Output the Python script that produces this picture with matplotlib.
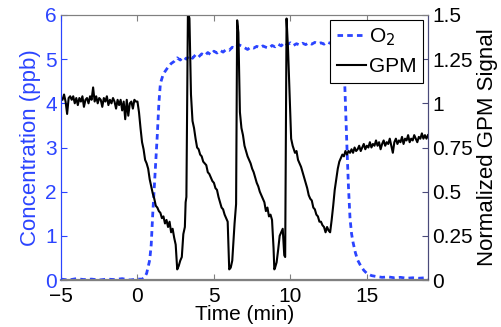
import matplotlib
matplotlib.use("Agg")
import matplotlib.pyplot as plt

plt.rcParams['font.family'] = ['Liberation Sans', 'DejaVu Sans']

# O2 concentration (ppb), left axis
o2_time = [-5.0, -4.5, -4.0, -3.5, -3.0, -2.5, -2.0, -1.5, -1.0, -0.5, 0.0, 0.3, 0.45,
           0.6, 0.8, 0.9, 1.0, 1.1, 1.2, 1.3, 1.4, 1.5, 1.65, 1.8, 2.0, 2.2, 2.4, 2.6, 2.8,
           3.0, 3.2, 3.4, 3.6, 3.8, 4.0, 4.2, 4.4, 4.6, 4.8, 5.0, 5.2, 5.4, 5.6, 5.8, 6.0,
           6.2, 6.4, 6.6, 6.8, 7.0, 7.2, 7.4, 7.6, 7.8, 8.0, 8.2, 8.4, 8.6, 8.8, 9.0, 9.2,
           9.4, 9.6, 9.8, 10.0, 10.2, 10.4, 10.6, 10.8, 11.0, 11.2, 11.4, 11.6, 11.8, 12.0,
           12.2, 12.4, 12.6, 12.8, 13.0, 13.2, 13.4, 13.5, 13.6, 13.7, 13.8, 13.9, 14.0,
           14.1, 14.25, 14.4, 14.6, 14.8, 15.0, 15.3, 15.6, 16.0, 16.4, 16.8, 17.2, 17.6,
           18.0, 18.4, 18.8, 19.0]
o2_conc = [0.02, 0.00, 0.03, 0.01, 0.02, 0.00, 0.02, 0.01, 0.03, 0.00, 0.02, 0.02, 0.05,
           0.15, 0.45, 0.80, 1.50, 2.10, 2.70, 3.30, 4.00, 4.45, 4.62, 4.72, 4.82, 4.90, 4.95,
           5.03, 4.98, 5.05, 5.00, 5.08, 5.02, 5.10, 5.05, 5.12, 5.08, 5.15, 5.10, 5.18, 5.14,
           5.20, 5.16, 5.22, 5.20, 5.27, 5.25, 5.33, 5.30, 5.26, 5.22, 5.27, 5.25, 5.29, 5.26,
           5.30, 5.27, 5.25, 5.31, 5.28, 5.34, 5.30, 5.38, 5.33, 5.37, 5.31, 5.35, 5.32, 5.36,
           5.33, 5.37, 5.34, 5.38, 5.35, 5.37, 5.34, 5.39, 5.36, 5.41, 5.35, 5.38, 5.30, 5.00,
           4.00, 3.00, 2.10, 1.40, 1.05, 0.85, 0.62, 0.45, 0.32, 0.22, 0.15, 0.10, 0.08, 0.06,
           0.07, 0.05, 0.06, 0.04, 0.05, 0.04, 0.05, 0.03]

# Normalized GPM signal, right axis
gpm_time = [-5.0, -4.9, -4.8, -4.7, -4.6, -4.5, -4.4, -4.3, -4.2, -4.1, -4.0, -3.9, -3.8,
            -3.7, -3.6, -3.5, -3.4, -3.3, -3.2, -3.1, -3.0, -2.9, -2.8, -2.7, -2.6, -2.5,
            -2.4, -2.3, -2.2, -2.1, -2.0, -1.9, -1.8, -1.7, -1.6, -1.5, -1.4, -1.3, -1.2,
            -1.1, -1.0, -0.9, -0.8, -0.7, -0.6, -0.5, -0.4, -0.3, -0.2, -0.1, 0.0, 0.1, 0.2,
            0.3, 0.4, 0.5, 0.6, 0.7, 0.8, 0.9, 1.0, 1.1, 1.2, 1.3, 1.4, 1.5, 1.6, 1.7, 1.8,
            1.9, 2.0, 2.1, 2.2, 2.3, 2.4, 2.5, 2.6, 2.7, 2.8, 2.9, 3.0, 3.1, 3.15, 3.2, 3.3,
            3.4, 3.5, 3.6, 3.7, 3.8, 3.9, 4.0, 4.1, 4.2, 4.3, 4.4, 4.5, 4.6, 4.7, 4.8, 4.9,
            5.0, 5.1, 5.2, 5.3, 5.4, 5.5, 5.6, 5.7, 5.8, 5.9, 6.0, 6.1, 6.2, 6.3, 6.35, 6.45,
            6.52, 6.6, 6.7, 6.8, 6.9, 7.0, 7.1, 7.2, 7.3, 7.4, 7.5, 7.6, 7.7, 7.8, 7.9, 8.0,
            8.1, 8.2, 8.3, 8.4, 8.5, 8.6, 8.7, 8.8, 8.9, 8.95, 9.0, 9.1, 9.2, 9.3, 9.4, 9.5,
            9.6, 9.66, 9.75, 9.85, 9.95, 10.05, 10.15, 10.3, 10.4, 10.5, 10.6, 10.7, 10.8,
            10.9, 11.0, 11.1, 11.2, 11.3, 11.4, 11.5, 11.6, 11.7, 11.8, 11.9, 12.0, 12.1,
            12.2, 12.3, 12.4, 12.5, 12.6, 12.7, 12.8, 12.9, 13.0, 13.1, 13.2, 13.3, 13.4,
            13.5, 13.6, 13.7, 13.8, 13.9, 14.0, 14.1, 14.2, 14.3, 14.4, 14.5, 14.6, 14.7,
            14.8, 14.9, 15.0, 15.1, 15.2, 15.3, 15.4, 15.5, 15.6, 15.7, 15.8, 15.9, 16.0,
            16.1, 16.2, 16.3, 16.4, 16.5, 16.6, 16.7, 16.8, 16.9, 17.0, 17.1, 17.2, 17.3,
            17.4, 17.5, 17.6, 17.7, 17.8, 17.9, 18.0, 18.1, 18.2, 18.3, 18.4, 18.5, 18.6,
            18.7, 18.8, 18.9, 19.0]
gpm_signal = [1.03, 1.02, 1.05, 1.01, 0.94, 1.03, 1.04, 1.02, 1.04, 1.00, 1.03, 0.99, 1.03,
              1.01, 1.04, 0.98, 1.02, 1.03, 1.00, 1.04, 1.02, 1.09, 1.01, 1.04, 1.00, 1.03,
              1.02, 0.98, 1.03, 1.01, 1.04, 0.99, 1.02, 1.00, 1.03, 1.01, 0.97, 1.02, 0.99,
              1.02, 0.96, 1.01, 0.91, 1.02, 0.93, 1.00, 1.01, 0.97, 1.02, 1.01, 1.01, 0.95, 0.86,
              0.78, 0.74, 0.68, 0.66, 0.63, 0.57, 0.53, 0.49, 0.46, 0.42, 0.41, 0.39, 0.38, 0.35,
              0.36, 0.32, 0.34, 0.30, 0.33, 0.27, 0.29, 0.24, 0.20, 0.06, 0.08, 0.11, 0.13,
              0.26, 0.30, 0.44, 0.47, 1.52, 1.48, 1.05, 0.90, 0.86, 0.80, 0.75, 0.74, 0.71,
              0.70, 0.67, 0.66, 0.65, 0.61, 0.60, 0.58, 0.56, 0.55, 0.52, 0.51, 0.47, 0.44,
              0.41, 0.40, 0.37, 0.35, 0.33, 0.06, 0.07, 0.11, 0.25, 0.32, 0.43, 1.47, 1.40,
              0.95, 0.86, 0.82, 0.76, 0.73, 0.70, 0.68, 0.66, 0.63, 0.61, 0.58, 0.55, 0.53,
              0.50, 0.48, 0.46, 0.44, 0.39, 0.41, 0.36, 0.37, 0.34, 0.18, 0.06, 0.07, 0.10,
              0.17, 0.25, 0.27, 0.29, 0.14, 0.13, 1.48, 1.30, 1.05, 0.80, 0.76, 0.72, 0.73,
              0.68, 0.66, 0.64, 0.61, 0.58, 0.55, 0.52, 0.48, 0.46, 0.45, 0.41, 0.40, 0.37,
              0.36, 0.33, 0.33, 0.31, 0.30, 0.27, 0.30, 0.28, 0.27, 0.34, 0.42, 0.51, 0.57,
              0.63, 0.67, 0.69, 0.71, 0.70, 0.73, 0.71, 0.73, 0.72, 0.74, 0.72, 0.75, 0.73,
              0.74, 0.76, 0.73, 0.75, 0.77, 0.74, 0.76, 0.75, 0.78, 0.75, 0.77, 0.76, 0.79,
              0.76, 0.78, 0.74, 0.77, 0.79, 0.76, 0.78, 0.77, 0.80, 0.76, 0.72, 0.78, 0.80,
              0.77, 0.79, 0.78, 0.81, 0.77, 0.80, 0.79, 0.82, 0.78, 0.80, 0.79, 0.82, 0.80,
              0.78, 0.81, 0.80, 0.83, 0.80, 0.82, 0.80, 0.82]

x_ticks = [-5, 0, 5, 10, 15]
left_ticks = [0, 1, 2, 3, 4, 5, 6]
right_ticks = [0, 0.25, 0.5, 0.75, 1, 1.25, 1.5]
right_ticklabels = ['0', '0.25', '0.5', '0.75', '1', '1.25', '1.5']

blue = '#2b44ff'
fs = 15

fig = plt.figure(figsize=(5.01, 3.27), dpi=100)
ax = fig.add_axes([61 / 501, 47 / 327, 367 / 501, 265 / 327])
ax2 = ax.twinx()

l1, = ax.plot(o2_time, o2_conc, color=blue, lw=2.0, ls=(0, (2.0, 1.5)), label='O$_2$')
l2, = ax2.plot(gpm_time, gpm_signal, color='black', lw=1.5, label='GPM')

ax.set_xlim(-5, 19)
ax.set_ylim(0, 6)
ax2.set_ylim(0, 1.5)
ax.set_xticks(x_ticks)
ax.set_yticks(left_ticks)
ax2.set_yticks(right_ticks)
ax2.set_yticklabels(right_ticklabels)

ax.tick_params(axis='x', direction='in', length=4, color='#808080', labelsize=fs,
               top=True, pad=5)
ax.tick_params(axis='y', direction='in', length=4, color=blue, labelcolor=blue,
               labelsize=fs, pad=3)
ax2.tick_params(axis='y', direction='in', length=4, color='#4a4a7a', labelsize=fs, pad=3)

for a in (ax, ax2):
    for s in a.spines.values():
        s.set_linewidth(0.8)
ax.spines['left'].set_color(blue)
ax2.spines['left'].set_color(blue)
ax.spines['top'].set_color('#808080')
ax2.spines['top'].set_color('#808080')
ax.spines['bottom'].set_color('#808080')
ax2.spines['bottom'].set_color('#808080')
ax.spines['bottom'].set_linewidth(1.6)
ax2.spines['right'].set_color('#4a4a7a')
ax.spines['right'].set_color('#4a4a7a')

ax.set_xlabel('Time (min)', fontsize=fs, labelpad=-1)
ax.set_ylabel('Concentration (ppb)', fontsize=16, color=blue, labelpad=3)
ax2.set_ylabel('Normalized GPM Signal', fontsize=16, labelpad=3)

leg = ax2.legend([l1, l2], ['O$_2$', 'GPM'], loc='upper right', fontsize=fs,
                 frameon=True, fancybox=False, framealpha=1, edgecolor='black',
                 handlelength=1.4, handletextpad=0.15, borderpad=0.3, labelspacing=0.45,
                 borderaxespad=0.25)
leg.get_frame().set_linewidth(0.8)

fig.savefig('out.png', dpi=100)
